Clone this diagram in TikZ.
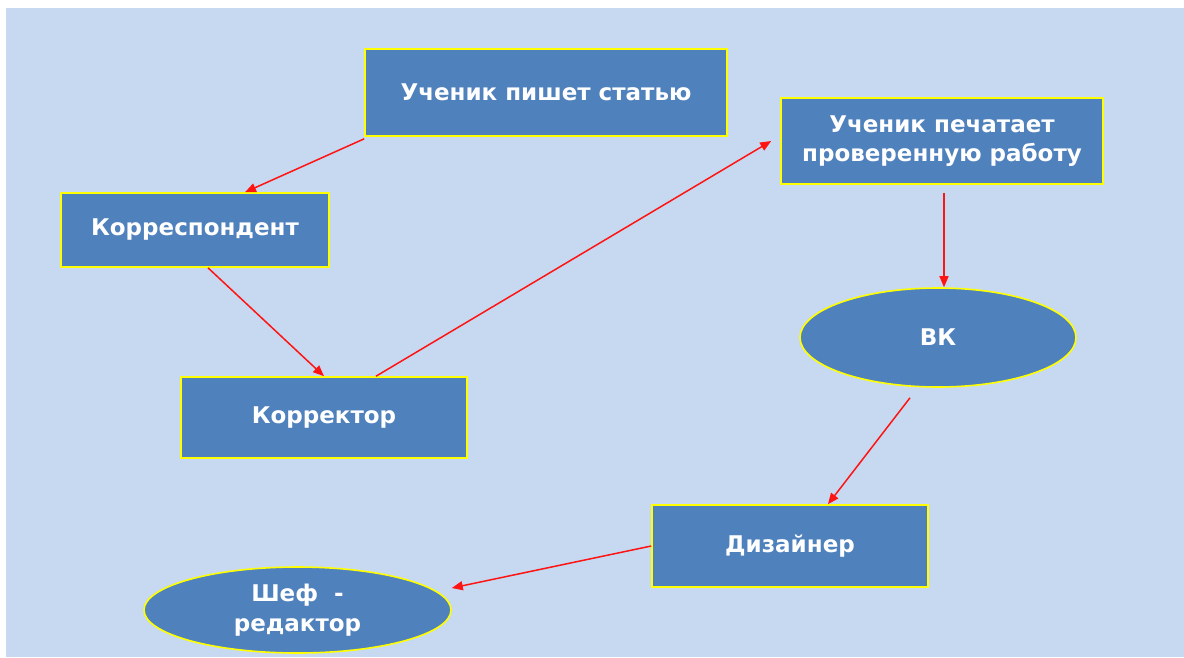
\documentclass[tikz,border=0pt]{standalone}
\usepackage{fontspec}
\setmainfont{DejaVu Sans}
\usetikzlibrary{arrows.meta,shapes.geometric}
\definecolor{bgblue}{RGB}{198,217,240}
\definecolor{boxblue}{RGB}{79,129,189}
\definecolor{rimyellow}{RGB}{255,255,0}
\definecolor{linkred}{RGB}{255,20,20}

\begin{document}
\begin{tikzpicture}[x=1pt,y=-1pt,
    box/.style={rectangle,draw=rimyellow,line width=1.6pt,fill=boxblue,text=white,
      font=\bfseries\fontsize{23}{29.5}\selectfont,align=center,inner sep=0pt},
    oval/.style={box,ellipse},
    link/.style={draw=linkred,line width=1.5pt,-{Triangle[length=11pt,width=9pt]}}]
        \useasboundingbox (0,0) rectangle (1184,657);
        \fill[bgblue] (6,8) rectangle (1184,657);
        % boxes
        \node[box,minimum width=362pt,minimum height=87pt] (stat) at (546,92.5) {Ученик пишет статью};
        \node[box,minimum width=268pt,minimum height=74pt] (korr) at (195,230) {Корреспондент};
        \node[box,minimum width=286pt,minimum height=81pt] (korrektor) at (324,417.5) {Корректор};
        \node[box,minimum width=322pt,minimum height=86pt] (pechat) at (942,141) {Ученик печатает\\проверенную работу};
        \node[oval,minimum width=276pt,minimum height=99pt] (vk) at (938,337.5) {ВК};
        \node[box,minimum width=276pt,minimum height=82pt] (dizayner) at (790,546) {Дизайнер};
        \node[oval,minimum width=307pt,minimum height=86pt] (shef) at (297.5,610) {Шеф \ -\\редактор};
        % arrows
        \draw[link] ([yshift=-2pt]stat.south west) -- ([xshift=50pt]korr.north);
        \draw[link] ([xshift=13pt]korr.south) -- (korrektor.north);
        \draw[link] ([xshift=52pt]korrektor.north) -- ([xshift=-9pt]pechat.west);
        \draw[link] ([xshift=2pt,yshift=-8pt]pechat.south) -- ([xshift=6pt]vk.north);
        \draw[link] ([xshift=-28pt,yshift=-10pt]vk.south) -- ([xshift=38pt]dizayner.north);
        \draw[link] (dizayner.west) -- ([yshift=22pt]shef.east);
    \end{tikzpicture}
\end{document}
